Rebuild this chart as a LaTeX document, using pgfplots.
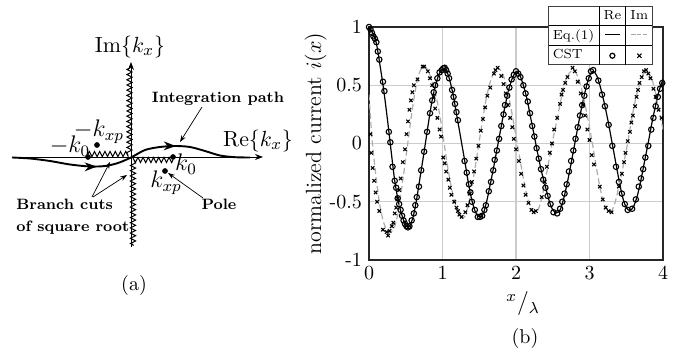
\documentclass[border=0pt]{standalone}
\usepackage{pgfplots}
\pgfplotsset{compat=1.18}
\usetikzlibrary{arrows.meta,decorations.pathmorphing,decorations.markings}
\usepackage{array}
\newsavebox\circbox
\newsavebox\crossbox
\begin{document}
\sbox\circbox{\tikz[baseline=-1.6pt]\draw[line width=0.6pt] (0,0) circle (1.25pt);}%
\sbox\crossbox{\tikz[baseline=-1.6pt]\draw[line width=0.55pt] (-1.05pt,-1.05pt)--(1.05pt,1.05pt) (-1.05pt,1.05pt)--(1.05pt,-1.05pt);}%
\begin{tikzpicture}
\path[use as bounding box] (0,0) rectangle (344.5pt,179pt);
% ---------------- panel (b) ----------------
\begin{axis}[at={(184.5pt,49pt)},anchor=south west,scale only axis,
  width=147pt,height=116.5pt,
  xmin=0,xmax=4,ymin=-1,ymax=1,
  xtick={0,1,2,3,4},
  ytick={-1,-0.5,0,0.5,1},yticklabels={-1,-0.5,0,0.5,1},
  grid=major,major grid style={color=black!20,line width=0.7pt},
  major tick length=0pt,
  axis line style={line width=0.65pt,black!85},
  tick label style={font=\fontsize{10}{12}\selectfont},
  xlabel={${}^{x}/_{\lambda}$},
  xlabel style={at={(axis description cs:0.524,-0.188)},anchor=center,inner sep=0pt,font=\fontsize{12}{14}\selectfont},
  ylabel={normalized current $i(x)$},
  ylabel style={at={(axis description cs:-0.143,0.5)},anchor=south,inner sep=0pt,font=\fontsize{11}{13}\selectfont},
]
\addplot[black,line width=0.6pt,smooth] coordinates {
(0,1.00)(0.05,0.95)(0.10,0.86)(0.15,0.67)(0.20,0.46)(0.25,0.21)(0.30,-0.06)(0.35,-0.32)(0.40,-0.50)(0.45,-0.62)(0.50,-0.70)(0.55,-0.71)(0.60,-0.63)(0.65,-0.47)(0.70,-0.27)(0.75,-0.07)(0.80,0.14)(0.85,0.34)(0.90,0.49)(0.95,0.59)(1.00,0.64)(1.05,0.63)(1.10,0.54)(1.15,0.40)(1.20,0.22)(1.25,0.04)(1.30,-0.14)(1.35,-0.33)(1.40,-0.49)(1.45,-0.59)(1.50,-0.63)(1.55,-0.61)(1.60,-0.50)(1.65,-0.35)(1.70,-0.19)(1.75,-0.02)(1.80,0.15)(1.85,0.32)(1.90,0.46)(1.95,0.56)(2.00,0.615)(2.05,0.59)(2.10,0.50)(2.15,0.38)(2.20,0.22)(2.25,0.06)(2.30,-0.10)(2.35,-0.25)(2.40,-0.37)(2.45,-0.49)(2.50,-0.57)(2.55,-0.595)(2.60,-0.57)(2.65,-0.47)(2.70,-0.33)(2.75,-0.17)(2.80,0.00)(2.85,0.17)(2.90,0.33)(2.95,0.47)(3.00,0.58)(3.05,0.62)(3.10,0.58)(3.15,0.48)(3.20,0.35)(3.25,0.20)(3.30,0.03)(3.35,-0.14)(3.40,-0.31)(3.45,-0.46)(3.50,-0.55)(3.55,-0.575)(3.60,-0.54)(3.65,-0.45)(3.70,-0.31)(3.75,-0.15)(3.80,0.01)(3.85,0.18)(3.90,0.33)(3.95,0.46)(4.00,0.55)};
\addplot[black!32,line width=0.6pt,dash pattern=on 3pt off 1.6pt,smooth] coordinates {
(0,0.42)(0.025,0.18)(0.05,-0.02)(0.10,-0.31)(0.15,-0.54)(0.20,-0.68)(0.25,-0.75)(0.30,-0.76)(0.35,-0.71)(0.40,-0.58)(0.45,-0.36)(0.50,-0.13)(0.55,0.11)(0.60,0.34)(0.65,0.52)(0.70,0.63)(0.75,0.665)(0.80,0.63)(0.85,0.55)(0.90,0.44)(0.95,0.29)(1.00,0.10)(1.05,-0.12)(1.10,-0.31)(1.15,-0.46)(1.20,-0.57)(1.25,-0.63)(1.30,-0.63)(1.35,-0.53)(1.40,-0.37)(1.45,-0.18)(1.50,0.02)(1.55,0.22)(1.60,0.40)(1.65,0.53)(1.70,0.61)(1.75,0.645)(1.80,0.62)(1.85,0.54)(1.90,0.41)(1.95,0.24)(2.00,0.06)(2.05,-0.12)(2.10,-0.30)(2.15,-0.45)(2.20,-0.55)(2.25,-0.59)(2.30,-0.57)(2.35,-0.47)(2.40,-0.31)(2.45,-0.14)(2.50,0.03)(2.55,0.18)(2.60,0.34)(2.65,0.49)(2.70,0.58)(2.75,0.62)(2.80,0.62)(2.85,0.56)(2.90,0.45)(2.95,0.30)(3.00,0.14)(3.05,-0.04)(3.10,-0.23)(3.15,-0.40)(3.20,-0.52)(3.25,-0.58)(3.30,-0.58)(3.35,-0.50)(3.40,-0.37)(3.45,-0.22)(3.50,-0.06)(3.55,0.12)(3.60,0.30)(3.65,0.44)(3.70,0.55)(3.75,0.61)(3.80,0.61)(3.85,0.55)(3.90,0.43)(3.95,0.27)(4.00,0.12)};
\addplot[only marks,mark=o,mark size=1.35pt,mark options={black,line width=0.55pt}] coordinates {
(0.00,1.00)(0.02,0.98)(0.04,0.95)(0.06,0.92)(0.08,0.90)(0.10,0.87)(0.12,0.79)(0.14,0.72)(0.19,0.53)(0.21,0.45)(0.27,0.10)(0.29,0.01)(0.32,-0.20)(0.35,-0.32)(0.37,-0.38)(0.39,-0.47)(0.41,-0.52)(0.43,-0.57)(0.45,-0.62)(0.47,-0.66)(0.49,-0.69)(0.51,-0.71)(0.53,-0.72)(0.55,-0.71)(0.58,-0.66)(0.61,-0.60)(0.63,-0.53)(0.65,-0.46)(0.68,-0.37)(0.71,-0.23)(0.75,-0.07)(0.79,0.10)(0.83,0.26)(0.86,0.37)(0.88,0.44)(0.90,0.50)(0.93,0.56)(0.96,0.61)(0.99,0.63)(1.01,0.645)(1.03,0.65)(1.05,0.63)(1.07,0.60)(1.09,0.56)(1.13,0.46)(1.15,0.40)(1.17,0.34)(1.19,0.27)(1.21,0.20)(1.30,-0.15)(1.33,-0.25)(1.36,-0.35)(1.38,-0.42)(1.40,-0.50)(1.44,-0.57)(1.48,-0.63)(1.51,-0.63)(1.54,-0.62)(1.57,-0.57)(1.59,-0.53)(1.63,-0.41)(1.66,-0.33)(1.69,-0.23)(1.71,-0.14)(1.74,-0.06)(1.77,0.04)(1.80,0.15)(1.83,0.25)(1.85,0.33)(1.88,0.41)(1.91,0.48)(1.94,0.55)(1.97,0.59)(2.00,0.62)(2.03,0.60)(2.06,0.57)(2.10,0.50)(2.13,0.43)(2.16,0.36)(2.19,0.26)(2.22,0.15)(2.25,0.06)(2.28,-0.04)(2.31,-0.13)(2.34,-0.22)(2.37,-0.31)(2.40,-0.38)(2.43,-0.45)(2.47,-0.52)(2.51,-0.59)(2.56,-0.60)(2.60,-0.56)(2.63,-0.50)(2.66,-0.43)(2.69,-0.35)(2.72,-0.24)(2.75,-0.15)(2.78,-0.06)(2.81,0.04)(2.84,0.14)(2.87,0.24)(2.90,0.33)(2.93,0.41)(2.96,0.49)(2.99,0.56)(3.02,0.62)(3.05,0.63)(3.12,0.54)(3.17,0.42)(3.21,0.32)(3.26,0.16)(3.31,-0.02)(3.36,-0.20)(3.40,-0.33)(3.44,-0.43)(3.48,-0.52)(3.52,-0.57)(3.58,-0.56)(3.63,-0.48)(3.67,-0.37)(3.70,-0.30)(3.73,-0.22)(3.76,-0.12)(3.80,-0.02)(3.84,0.12)(3.87,0.22)(3.90,0.32)(3.93,0.40)(3.96,0.47)(3.99,0.52)};
\addplot[only marks,mark=x,mark size=1.2pt,mark options={black,line width=0.55pt}] coordinates {
(0.02,0.08)(0.03,-0.08)(0.05,-0.21)(0.07,-0.32)(0.09,-0.42)(0.11,-0.50)(0.14,-0.58)(0.19,-0.74)(0.24,-0.76)(0.26,-0.79)(0.28,-0.75)(0.31,-0.71)(0.33,-0.68)(0.35,-0.60)(0.37,-0.55)(0.39,-0.47)(0.41,-0.40)(0.43,-0.30)(0.46,-0.16)(0.49,-0.05)(0.51,0.08)(0.53,0.19)(0.55,0.29)(0.57,0.37)(0.59,0.44)(0.61,0.50)(0.66,0.55)(0.73,0.66)(0.75,0.66)(0.80,0.62)(0.83,0.56)(0.86,0.50)(0.88,0.40)(0.90,0.30)(0.93,0.22)(0.96,0.12)(0.98,0.06)(1.01,-0.12)(1.03,-0.17)(1.05,-0.24)(1.08,-0.31)(1.10,-0.38)(1.12,-0.44)(1.16,-0.50)(1.19,-0.55)(1.21,-0.58)(1.23,-0.61)(1.26,-0.63)(1.31,-0.59)(1.34,-0.53)(1.37,-0.43)(1.40,-0.33)(1.43,-0.24)(1.46,-0.13)(1.49,-0.02)(1.52,0.11)(1.55,0.21)(1.58,0.31)(1.61,0.41)(1.65,0.48)(1.70,0.60)(1.72,0.63)(1.75,0.65)(1.80,0.58)(1.83,0.51)(1.86,0.43)(1.89,0.33)(1.92,0.22)(1.95,0.14)(1.97,0.04)(2.00,-0.05)(2.04,-0.15)(2.07,-0.26)(2.10,-0.36)(2.13,-0.44)(2.17,-0.51)(2.21,-0.57)(2.24,-0.59)(2.27,-0.58)(2.35,-0.46)(2.39,-0.33)(2.42,-0.20)(2.46,-0.08)(2.49,0.00)(2.52,0.12)(2.56,0.22)(2.60,0.34)(2.62,0.42)(2.64,0.46)(2.67,0.52)(2.70,0.57)(2.77,0.65)(2.80,0.62)(2.84,0.53)(2.88,0.43)(2.91,0.33)(2.94,0.24)(2.97,0.12)(3.00,0.03)(3.03,-0.10)(3.06,-0.18)(3.14,-0.37)(3.18,-0.48)(3.22,-0.55)(3.26,-0.58)(3.30,-0.59)(3.40,-0.37)(3.44,-0.26)(3.47,-0.16)(3.49,-0.08)(3.52,0.02)(3.55,0.10)(3.57,0.18)(3.59,0.24)(3.62,0.32)(3.64,0.40)(3.66,0.46)(3.68,0.52)(3.71,0.57)(3.74,0.62)(3.77,0.63)(3.80,0.60)(3.83,0.56)(3.87,0.47)(3.90,0.40)(3.94,0.29)(3.98,0.22)};
\end{axis}
% ---------------- panel (a) and overlays (pixel units) ----------------
\begin{axis}[at={(0,0)},anchor=south west,scale only axis,width=344.5pt,height=179pt,
  xmin=0,xmax=689,ymin=0,ymax=358,hide axis,clip=false]
% real and imaginary axes
\addplot[black,line width=0.4pt,-{Stealth[length=4pt,width=3pt]}] coordinates {(12,201) (263,201)};
\addplot[black,line width=0.4pt,-{Stealth[length=4pt,width=3pt]}] coordinates {(131,111) (131,296)};
% branch cuts
\addplot[black,line width=0.5pt,decorate,decoration={zigzag,segment length=2.6pt,amplitude=1.3pt}] coordinates {(88,204) (129.5,204) (129.5,292)};
\addplot[black,line width=0.5pt,decorate,decoration={zigzag,segment length=2.6pt,amplitude=1.3pt}] coordinates {(173,198) (133,198) (133,112)};
% integration path
\addplot[black,line width=0.95pt,smooth,postaction={decorate},
  decoration={markings,
    mark=at position 0.35 with {\arrow{Stealth[length=6pt,width=4.4pt]}},
    mark=at position 0.69 with {\arrow{Stealth[length=6pt,width=4.4pt]}}}] coordinates {
(12,200.5) (30,199.5) (50,197) (70,193.5) (90,191.5) (105,192) (118,195) (131,200.5) (145,208) (160,211) (175,212) (190,211) (205,207) (220,202.5) (235,200.8) (250,200.5)};
% poles and branch points
\addplot[only marks,mark=*,mark size=1.2pt,black] coordinates {(88,201) (97,213) (173,201) (165,187)};
% pointer arrows
\addplot[black,line width=0.35pt,-{Stealth[length=3.4pt,width=2.4pt]}] coordinates {(202,251) (180,216)};
\addplot[black,line width=0.35pt,-{Stealth[length=3.4pt,width=2.4pt]}] coordinates {(92,161) (110,196)};
\addplot[black,line width=0.35pt,-{Stealth[length=3.4pt,width=2.4pt]}] coordinates {(93,161) (127,183)};
\addplot[black,line width=0.35pt,-{Stealth[length=3.4pt,width=2.4pt]}] coordinates {(203,160) (168,185)};
% labels
\node[font=\fontsize{11}{13}\selectfont] at (axis cs:130,311) {$\mathrm{Im}\{k_x\}$};
\node[font=\fontsize{11}{13}\selectfont] at (axis cs:258,217) {$\mathrm{Re}\{k_x\}$};
\node[font=\fontsize{12}{14}\selectfont] at (axis cs:99,226) {$-k_{xp}$};
\node[font=\fontsize{12}{14}\selectfont] at (axis cs:70,212) {$-k_0$};
\node[font=\fontsize{12}{14}\selectfont] at (axis cs:186,194) {$k_0$};
\node[font=\fontsize{12}{14}\selectfont] at (axis cs:166,175) {$k_{xp}$};
\node[font=\fontsize{7.5}{9}\selectfont\bfseries] at (axis cs:218,259) {Integration path};
\node[font=\fontsize{7.5}{9}\selectfont\bfseries,anchor=base west,inner sep=0pt] at (axis cs:16,148) {Branch cuts};
\node[font=\fontsize{7.5}{9}\selectfont\bfseries,anchor=base west,inner sep=0pt] at (axis cs:16,126) {of square root};
\node[font=\fontsize{7.5}{9}\selectfont\bfseries] at (axis cs:219,154) {Pole};
\node[font=\fontsize{10}{12}\selectfont] at (axis cs:134,72) {(a)};
\node[font=\fontsize{10}{12}\selectfont] at (axis cs:525,20) {(b)};
% legend table
\node[draw=black!75,line width=0.5pt,fill=white,inner sep=0pt] at (axis cs:600.5,322.5) {%
  \fontsize{6.6}{8}\selectfont\setlength{\tabcolsep}{2.1pt}\renewcommand{\arraystretch}{1.18}%
  \begin{tabular}{l|c|c}
   & Re & Im\\ \hline
  Eq.(1) & \rule[1.9pt]{7.5pt}{0.5pt} & \textcolor{black!35}{\rule[1.9pt]{2.1pt}{0.5pt}\hspace{0.8pt}\rule[1.9pt]{2.1pt}{0.5pt}\hspace{0.8pt}\rule[1.9pt]{2.1pt}{0.5pt}}\\ \hline
  CST & \usebox\circbox & \usebox\crossbox
  \end{tabular}};
\end{axis}
\end{tikzpicture}
\end{document}
